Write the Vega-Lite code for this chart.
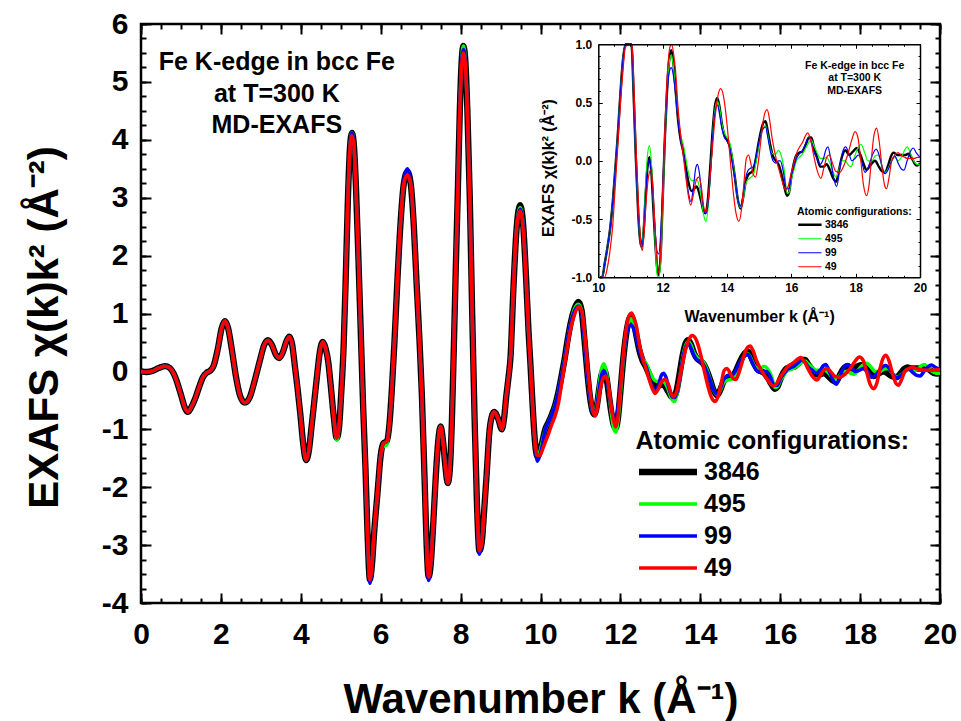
{
  "$schema": "https://vega.github.io/schema/vega-lite/v6.json",
  "width": 799,
  "height": 579,
  "autosize": {"type": "none"},
  "padding": {"left": 141, "top": 24, "right": 21, "bottom": 118},
  "background": "white",
  "config": {
    "font": "Liberation Sans",
    "view": {"stroke": "black", "strokeWidth": 2.5},
    "axis": {"grid": false, "labelFlush": false, "labelOverlap": false, "labelColor": "black", "tickColor": "black", "domainColor": "black", "titleColor": "black", "labelFont": "Liberation Sans", "titleFont": "Liberation Sans", "labelFontWeight": "bold", "titleFontWeight": "bold"},
    "legend": {"labelFont": "Liberation Sans", "titleFont": "Liberation Sans", "labelFontWeight": "bold", "titleFontWeight": "bold", "labelColor": "black", "titleColor": "black", "padding": 0, "titleLimit": 500, "labelLimit": 300}
  },
  "datasets": {
    "exafs": [
      {"k":0,"v":0,"s":["3846","495","99","49"]},
      {"k":0.15,"v":-0.01,"s":["3846","495","99","49"]},
      {"k":0.3,"v":0.01,"s":["3846","495","99","49"]},
      {"k":0.45,"v":0.06,"s":["3846","495","99","49"]},
      {"k":0.6,"v":0.09,"s":["3846","495","99","49"]},
      {"k":0.72,"v":0.06,"s":["3846","495","99","49"]},
      {"k":0.82,"v":-0.04,"s":["3846","495","99","49"]},
      {"k":0.92,"v":-0.22,"s":["3846","495","99","49"]},
      {"k":1.02,"v":-0.45,"s":["3846","495","99","49"]},
      {"k":1.1,"v":-0.63,"s":["3846","495","99","49"]},
      {"k":1.17,"v":-0.7,"s":["3846","495","99","49"]},
      {"k":1.25,"v":-0.63,"s":["3846","495","99","49"]},
      {"k":1.35,"v":-0.48,"s":["3846","495","99","49"]},
      {"k":1.45,"v":-0.28,"s":["3846","495","99","49"]},
      {"k":1.55,"v":-0.1,"s":["3846","495","99","49"]},
      {"k":1.65,"v":-0.02,"s":["3846","495","99","49"]},
      {"k":1.73,"v":0.01,"s":["3846","495","99","49"]},
      {"k":1.82,"v":0.1,"s":["3846","495","99","49"]},
      {"k":1.92,"v":0.38,"s":["3846","495","99","49"]},
      {"k":2.02,"v":0.75,"s":["3846","495","99","49"]},
      {"k":2.1,"v":0.87,"s":["3846","495","99","49"]},
      {"k":2.18,"v":0.75,"s":["3846","495","99","49"]},
      {"k":2.28,"v":0.35,"s":["3846","495","99","49"]},
      {"k":2.38,"v":-0.1,"s":["3846","495","99","49"]},
      {"k":2.48,"v":-0.42,"s":["3846","495","99","49"]},
      {"k":2.6,"v":-0.54,"s":["3846","495","99","49"]},
      {"k":2.72,"v":-0.45,"s":["3846","495","99","49"]},
      {"k":2.85,"v":-0.15,"s":["3846","495","99","49"]},
      {"k":2.98,"v":0.2,"s":["3846","495","99","49"]},
      {"k":3.08,"v":0.45,"s":["3846","495","99","49"]},
      {"k":3.18,"v":0.54,"s":["3846","495","99","49"]},
      {"k":3.28,"v":0.45,"s":["3846","495","99","49"]},
      {"k":3.38,"v":0.28,"s":["3846","495","99","49"]},
      {"k":3.46,"v":0.23,"s":["3846","495","99","49"]},
      {"k":3.55,"v":0.33,"s":["3846","495","99","49"]},
      {"k":3.64,"v":0.52,"s":["3846","495","99","49"]},
      {"k":3.71,"v":0.6,"s":["3846","495","99","49"]},
      {"k":3.78,"v":0.48,"s":["3846","495","99","49"]},
      {"k":3.85,"v":0.1,"s":["3846","495","99","49"]},
      {"k":3.92,"v":-0.3,"s":["3846","495","99","49"]},
      {"k":3.99,"v":-0.75,"s":["3846","495","99","49"]},
      {"k":4.06,"v":-1.25,"s":["3846","495","99","49"]},
      {"k":4.13,"v":-1.53,"s":["3846","495","99","49"]},
      {"k":4.2,"v":-1.38,"s":["3846","495","99","49"]},
      {"k":4.27,"v":-0.95,"s":["3846","495","99","49"]},
      {"k":4.34,"v":-0.5,"s":["3846","495","99","49"]},
      {"k":4.41,"v":-0.05,"s":["3846","495","99","49"]},
      {"k":4.48,"v":0.35,"s":["3846","495","99","49"]},
      {"k":4.55,"v":0.51,"s":["3846","495","99","49"]},
      {"k":4.62,"v":0.4,"s":["3846","495","99","49"]},
      {"k":4.69,"v":0.15,"s":["3846","495","99","49"]},
      {"k":4.75,"v":-0.25,"s":["3846","495","99","49"]},
      {"k":4.82,"v":-0.75,"s":["3846","495","99","49"]},
      {"k":4.9,"v":-1.15,"s":["3846","99","49"]},
      {"k":4.9,"v":-1.19,"s":["495"]},
      {"k":4.96,"v":-0.95,"s":["3846","495","99","49"]},
      {"k":5.01,"v":-0.4,"s":["3846","495","99","49"]},
      {"k":5.07,"v":0.4,"s":["3846","495","99","49"]},
      {"k":5.12,"v":1.5,"s":["3846","495","99","49"]},
      {"k":5.18,"v":3.0,"s":["3846","495","99","49"]},
      {"k":5.23,"v":3.85,"s":["3846","495","99","49"]},
      {"k":5.28,"v":4.12,"s":["3846","495","99"]},
      {"k":5.28,"v":4.07,"s":["49"]},
      {"k":5.33,"v":3.9,"s":["3846","495","99","49"]},
      {"k":5.38,"v":3.2,"s":["3846","495","99","49"]},
      {"k":5.44,"v":2.0,"s":["3846","495","99","49"]},
      {"k":5.5,"v":0.7,"s":["3846","495","99","49"]},
      {"k":5.56,"v":-0.6,"s":["3846","495","99","49"]},
      {"k":5.62,"v":-1.7,"s":["3846","495","99","49"]},
      {"k":5.67,"v":-2.8,"s":["3846","495","99","49"]},
      {"k":5.73,"v":-3.6,"s":["3846","495","49"]},
      {"k":5.73,"v":-3.66,"s":["99"]},
      {"k":5.78,"v":-3.35,"s":["3846","495","99","49"]},
      {"k":5.84,"v":-2.75,"s":["3846","495","99","49"]},
      {"k":5.92,"v":-2.1,"s":["3846","495","99","49"]},
      {"k":6.0,"v":-1.45,"s":["3846","495","99","49"]},
      {"k":6.07,"v":-1.24,"s":["3846","99","49"]},
      {"k":6.07,"v":-1.3,"s":["495"]},
      {"k":6.15,"v":-1.21,"s":["3846","99","49"]},
      {"k":6.15,"v":-1.27,"s":["495"]},
      {"k":6.22,"v":-0.9,"s":["3846","495","99","49"]},
      {"k":6.28,"v":-0.3,"s":["3846","495","99","49"]},
      {"k":6.34,"v":0.45,"s":["3846","495","99","49"]},
      {"k":6.42,"v":1.6,"s":["3846","495","99","49"]},
      {"k":6.5,"v":2.6,"s":["3846","495","99","49"]},
      {"k":6.58,"v":3.25,"s":["3846","495","49"]},
      {"k":6.58,"v":3.3,"s":["99"]},
      {"k":6.67,"v":3.45,"s":["3846","495"]},
      {"k":6.67,"v":3.5,"s":["99"]},
      {"k":6.67,"v":3.39,"s":["49"]},
      {"k":6.75,"v":3.25,"s":["3846","495","99","49"]},
      {"k":6.83,"v":2.5,"s":["3846","495","99","49"]},
      {"k":6.9,"v":1.5,"s":["3846","495","99","49"]},
      {"k":6.97,"v":0.55,"s":["3846","495","99","49"]},
      {"k":7.03,"v":-0.4,"s":["3846","495","99","49"]},
      {"k":7.1,"v":-1.9,"s":["3846","495","99","49"]},
      {"k":7.15,"v":-3.0,"s":["3846","495","99","49"]},
      {"k":7.2,"v":-3.55,"s":["3846","495","49"]},
      {"k":7.2,"v":-3.61,"s":["99"]},
      {"k":7.25,"v":-3.35,"s":["3846","495","99","49"]},
      {"k":7.31,"v":-2.7,"s":["3846","495","99","49"]},
      {"k":7.38,"v":-1.8,"s":["3846","495","99","49"]},
      {"k":7.44,"v":-1.2,"s":["3846","495","99","49"]},
      {"k":7.5,"v":-0.95,"s":["3846","495","99","49"]},
      {"k":7.56,"v":-1.2,"s":["3846","495","99","49"]},
      {"k":7.62,"v":-1.65,"s":["3846","495","99","49"]},
      {"k":7.68,"v":-1.93,"s":["3846","495","99","49"]},
      {"k":7.73,"v":-1.7,"s":["3846","495","99","49"]},
      {"k":7.78,"v":-0.9,"s":["3846","495","99","49"]},
      {"k":7.83,"v":0.4,"s":["3846","495","99","49"]},
      {"k":7.88,"v":1.8,"s":["3846","495","99","49"]},
      {"k":7.93,"v":3.1,"s":["3846","495","99","49"]},
      {"k":7.98,"v":4.5,"s":["3846","495","99","49"]},
      {"k":8.03,"v":5.4,"s":["3846","495","99"]},
      {"k":8.03,"v":5.3,"s":["49"]},
      {"k":8.07,"v":5.62,"s":["3846","495"]},
      {"k":8.07,"v":5.56,"s":["99"]},
      {"k":8.07,"v":5.5,"s":["49"]},
      {"k":8.12,"v":5.35,"s":["3846","495","99"]},
      {"k":8.12,"v":5.28,"s":["49"]},
      {"k":8.17,"v":4.5,"s":["3846","495","99","49"]},
      {"k":8.23,"v":3.0,"s":["3846","495","99","49"]},
      {"k":8.29,"v":1.0,"s":["3846","495","99","49"]},
      {"k":8.35,"v":-0.8,"s":["3846","495","99","49"]},
      {"k":8.41,"v":-2.3,"s":["3846","495","99","49"]},
      {"k":8.47,"v":-3.1,"s":["3846","495","49"]},
      {"k":8.47,"v":-3.16,"s":["99"]},
      {"k":8.53,"v":-2.95,"s":["3846","495","99","49"]},
      {"k":8.59,"v":-2.4,"s":["3846","495","99","49"]},
      {"k":8.65,"v":-1.8,"s":["3846","495","99","49"]},
      {"k":8.72,"v":-1.05,"s":["3846","495","99","49"]},
      {"k":8.78,"v":-0.78,"s":["3846","495","99","49"]},
      {"k":8.84,"v":-0.7,"s":["3846","495","99","49"]},
      {"k":8.9,"v":-0.75,"s":["3846","495","99","49"]},
      {"k":8.96,"v":-0.86,"s":["3846","495","99","49"]},
      {"k":9.03,"v":-1.0,"s":["3846","495","99","49"]},
      {"k":9.09,"v":-0.8,"s":["3846","495","99","49"]},
      {"k":9.14,"v":-0.45,"s":["3846","495","99","49"]},
      {"k":9.2,"v":-0.1,"s":["3846","495","99","49"]},
      {"k":9.25,"v":0.25,"s":["3846","495","99","49"]},
      {"k":9.32,"v":1.4,"s":["3846","495","99","49"]},
      {"k":9.4,"v":2.45,"s":["3846","495","99","49"]},
      {"k":9.49,"v":2.87,"s":["3846"]},
      {"k":9.49,"v":2.83,"s":["495"]},
      {"k":9.49,"v":2.8,"s":["99"]},
      {"k":9.49,"v":2.77,"s":["49"]},
      {"k":9.57,"v":2.5,"s":["3846","495","99"]},
      {"k":9.57,"v":2.42,"s":["49"]},
      {"k":9.64,"v":1.6,"s":["3846","495","99","49"]},
      {"k":9.7,"v":0.7,"s":["3846","495","99","49"]},
      {"k":9.75,"v":0.1,"s":["3846","495","99","49"]},
      {"k":9.8,"v":-0.55,"s":["3846","495","99","49"]},
      {"k":9.86,"v":-1.2,"s":["3846","495","99","49"]},
      {"k":9.92,"v":-1.47,"s":["3846"]},
      {"k":9.92,"v":-1.51,"s":["495"]},
      {"k":9.92,"v":-1.55,"s":["99"]},
      {"k":9.92,"v":-1.45,"s":["49"]},
      {"k":9.98,"v":-1.4,"s":["3846","495"]},
      {"k":9.98,"v":-1.46,"s":["99"]},
      {"k":9.98,"v":-1.45,"s":["49"]},
      {"k":10.05,"v":-1.2,"s":["3846","495"]},
      {"k":10.05,"v":-1.25,"s":["99"]},
      {"k":10.05,"v":-1.35,"s":["49"]},
      {"k":10.12,"v":-1.0,"s":["3846","495","99"]},
      {"k":10.12,"v":-1.22,"s":["49"]},
      {"k":10.2,"v":-0.88,"s":["3846","495","99"]},
      {"k":10.28,"v":-0.75,"s":["3846","495","99"]},
      {"k":10.36,"v":-0.6,"s":["3846","495","99"]},
      {"k":10.45,"v":-0.35,"s":["3846","495","99"]},
      {"k":10.52,"v":-0.1,"s":["3846","495","99"]},
      {"k":10.6,"v":0.2,"s":["3846","495","99"]},
      {"k":10.68,"v":0.55,"s":["3846","495","99"]},
      {"k":10.76,"v":0.85,"s":["3846","495","99"]},
      {"k":10.85,"v":1.08,"s":["3846","495"]},
      {"k":10.85,"v":1.04,"s":["99"]},
      {"k":10.95,"v":1.2,"s":["3846"]},
      {"k":10.95,"v":1.16,"s":["495"]},
      {"k":10.95,"v":1.13,"s":["99"]},
      {"k":11.03,"v":1.05,"s":["3846","495"]},
      {"k":11.03,"v":1.0,"s":["99"]},
      {"k":11.1,"v":0.55,"s":["3846","495","99"]},
      {"k":11.17,"v":0.0,"s":["3846","495","99"]},
      {"k":11.24,"v":-0.45,"s":["3846","495","99"]},
      {"k":11.3,"v":-0.68,"s":["3846","495","99"]},
      {"k":11.35,"v":-0.74,"s":["3846","495","99"]},
      {"k":10.2,"v":-1.08,"s":["49"]},
      {"k":10.28,"v":-0.92,"s":["49"]},
      {"k":10.36,"v":-0.78,"s":["49"]},
      {"k":10.45,"v":-0.55,"s":["49"]},
      {"k":10.52,"v":-0.25,"s":["49"]},
      {"k":10.6,"v":0.1,"s":["49"]},
      {"k":10.68,"v":0.45,"s":["49"]},
      {"k":10.76,"v":0.75,"s":["49"]},
      {"k":10.85,"v":0.98,"s":["49"]},
      {"k":10.97,"v":1.12,"s":["49"]},
      {"k":11.05,"v":0.98,"s":["49"]},
      {"k":11.12,"v":0.55,"s":["49"]},
      {"k":11.19,"v":0.0,"s":["49"]},
      {"k":11.26,"v":-0.45,"s":["49"]},
      {"k":11.32,"v":-0.7,"s":["49"]},
      {"k":11.37,"v":-0.77,"s":["49"]},
      {"k":11.41,"v":-0.6,"s":["3846"]},
      {"k":11.47,"v":-0.3,"s":["3846"]},
      {"k":11.53,"v":-0.05,"s":["3846"]},
      {"k":11.59,"v":0.03,"s":["3846"]},
      {"k":11.65,"v":-0.1,"s":["3846"]},
      {"k":11.71,"v":-0.4,"s":["3846"]},
      {"k":11.77,"v":-0.7,"s":["3846"]},
      {"k":11.83,"v":-0.92,"s":["3846"]},
      {"k":11.88,"v":-0.98,"s":["3846"]},
      {"k":11.94,"v":-0.8,"s":["3846"]},
      {"k":12.0,"v":-0.35,"s":["3846"]},
      {"k":12.07,"v":0.2,"s":["3846"]},
      {"k":12.14,"v":0.62,"s":["3846"]},
      {"k":12.21,"v":0.88,"s":["3846"]},
      {"k":12.27,"v":0.95,"s":["3846"]},
      {"k":12.33,"v":0.85,"s":["3846"]},
      {"k":12.4,"v":0.62,"s":["3846"]},
      {"k":12.48,"v":0.35,"s":["3846"]},
      {"k":12.56,"v":0.18,"s":["3846"]},
      {"k":12.64,"v":0.08,"s":["3846"]},
      {"k":12.72,"v":-0.05,"s":["3846"]},
      {"k":12.8,"v":-0.18,"s":["3846"]},
      {"k":12.9,"v":-0.26,"s":["3846"]},
      {"k":12.98,"v":-0.24,"s":["3846"]},
      {"k":13.05,"v":-0.22,"s":["3846"]},
      {"k":13.12,"v":-0.26,"s":["3846"]},
      {"k":13.2,"v":-0.35,"s":["3846"]},
      {"k":13.28,"v":-0.44,"s":["3846"]},
      {"k":13.33,"v":-0.45,"s":["3846"]},
      {"k":13.4,"v":-0.35,"s":["3846"]},
      {"k":13.48,"v":-0.05,"s":["3846"]},
      {"k":13.56,"v":0.28,"s":["3846"]},
      {"k":13.63,"v":0.48,"s":["3846"]},
      {"k":13.7,"v":0.54,"s":["3846"]},
      {"k":13.77,"v":0.46,"s":["3846"]},
      {"k":13.84,"v":0.32,"s":["3846"]},
      {"k":13.92,"v":0.22,"s":["3846"]},
      {"k":14.0,"v":0.18,"s":["3846"]},
      {"k":14.08,"v":0.13,"s":["3846"]},
      {"k":14.16,"v":0.02,"s":["3846"]},
      {"k":14.25,"v":-0.15,"s":["3846"]},
      {"k":14.33,"v":-0.32,"s":["3846"]},
      {"k":14.42,"v":-0.41,"s":["3846"]},
      {"k":14.5,"v":-0.32,"s":["3846"]},
      {"k":14.58,"v":-0.18,"s":["3846"]},
      {"k":14.66,"v":-0.12,"s":["3846"]},
      {"k":14.75,"v":-0.1,"s":["3846"]},
      {"k":14.82,"v":-0.08,"s":["3846"]},
      {"k":14.9,"v":0.02,"s":["3846"]},
      {"k":14.98,"v":0.15,"s":["3846"]},
      {"k":15.06,"v":0.26,"s":["3846"]},
      {"k":15.14,"v":0.33,"s":["3846"]},
      {"k":15.2,"v":0.34,"s":["3846"]},
      {"k":15.27,"v":0.25,"s":["3846"]},
      {"k":15.35,"v":0.13,"s":["3846"]},
      {"k":15.43,"v":0.04,"s":["3846"]},
      {"k":15.52,"v":0.0,"s":["3846"]},
      {"k":15.6,"v":-0.03,"s":["3846"]},
      {"k":15.7,"v":-0.12,"s":["3846"]},
      {"k":15.78,"v":-0.22,"s":["3846"]},
      {"k":15.87,"v":-0.3,"s":["3846"]},
      {"k":15.93,"v":-0.27,"s":["3846"]},
      {"k":16.0,"v":-0.14,"s":["3846"]},
      {"k":16.08,"v":-0.02,"s":["3846"]},
      {"k":16.16,"v":0.05,"s":["3846"]},
      {"k":16.25,"v":0.07,"s":["3846"]},
      {"k":16.35,"v":0.08,"s":["3846"]},
      {"k":16.45,"v":0.14,"s":["3846"]},
      {"k":16.55,"v":0.2,"s":["3846"]},
      {"k":16.62,"v":0.2,"s":["3846"]},
      {"k":16.7,"v":0.12,"s":["3846"]},
      {"k":16.8,"v":0.03,"s":["3846"]},
      {"k":16.9,"v":-0.05,"s":["3846"]},
      {"k":17.0,"v":-0.05,"s":["3846"]},
      {"k":17.1,"v":-0.03,"s":["3846"]},
      {"k":17.2,"v":-0.08,"s":["3846"]},
      {"k":17.3,"v":-0.15,"s":["3846"]},
      {"k":17.39,"v":-0.18,"s":["3846"]},
      {"k":17.48,"v":-0.08,"s":["3846"]},
      {"k":17.58,"v":0.04,"s":["3846"]},
      {"k":17.68,"v":0.09,"s":["3846"]},
      {"k":17.8,"v":0.05,"s":["3846"]},
      {"k":17.92,"v":0.08,"s":["3846"]},
      {"k":18.03,"v":0.11,"s":["3846"]},
      {"k":18.15,"v":0.05,"s":["3846"]},
      {"k":18.25,"v":-0.03,"s":["3846"]},
      {"k":18.34,"v":-0.08,"s":["3846"]},
      {"k":18.45,"v":-0.04,"s":["3846"]},
      {"k":18.6,"v":0.0,"s":["3846"]},
      {"k":18.72,"v":-0.05,"s":["3846"]},
      {"k":18.82,"v":-0.09,"s":["3846"]},
      {"k":18.91,"v":-0.1,"s":["3846"]},
      {"k":19.02,"v":-0.03,"s":["3846"]},
      {"k":19.1,"v":0.04,"s":["3846"]},
      {"k":19.18,"v":0.07,"s":["3846"]},
      {"k":19.3,"v":0.05,"s":["3846"]},
      {"k":19.43,"v":0.05,"s":["3846"]},
      {"k":19.55,"v":0.05,"s":["3846"]},
      {"k":19.64,"v":0.06,"s":["3846"]},
      {"k":19.75,"v":0.02,"s":["3846"]},
      {"k":19.85,"v":-0.03,"s":["3846"]},
      {"k":19.92,"v":-0.04,"s":["3846"]},
      {"k":20.0,"v":-0.02,"s":["3846"]},
      {"k":11.41,"v":-0.55,"s":["495"]},
      {"k":11.47,"v":-0.22,"s":["495"]},
      {"k":11.53,"v":0.05,"s":["495"]},
      {"k":11.59,"v":0.13,"s":["495"]},
      {"k":11.65,"v":-0.02,"s":["495"]},
      {"k":11.71,"v":-0.35,"s":["495"]},
      {"k":11.77,"v":-0.7,"s":["495"]},
      {"k":11.83,"v":-0.98,"s":["495"]},
      {"k":11.88,"v":-1.05,"s":["495"]},
      {"k":11.94,"v":-0.85,"s":["495"]},
      {"k":12.0,"v":-0.38,"s":["495"]},
      {"k":12.07,"v":0.18,"s":["495"]},
      {"k":12.14,"v":0.6,"s":["495"]},
      {"k":12.21,"v":0.85,"s":["495"]},
      {"k":12.27,"v":0.91,"s":["495"]},
      {"k":12.33,"v":0.82,"s":["495"]},
      {"k":12.4,"v":0.6,"s":["495"]},
      {"k":12.48,"v":0.38,"s":["495"]},
      {"k":12.56,"v":0.22,"s":["495"]},
      {"k":12.64,"v":0.14,"s":["495"]},
      {"k":12.72,"v":0.02,"s":["495"]},
      {"k":12.8,"v":-0.1,"s":["495"]},
      {"k":12.9,"v":-0.17,"s":["495"]},
      {"k":12.98,"v":-0.17,"s":["495"]},
      {"k":13.05,"v":-0.16,"s":["495"]},
      {"k":13.12,"v":-0.2,"s":["495"]},
      {"k":13.2,"v":-0.32,"s":["495"]},
      {"k":13.28,"v":-0.47,"s":["495"]},
      {"k":13.35,"v":-0.52,"s":["495"]},
      {"k":13.42,"v":-0.38,"s":["495"]},
      {"k":13.5,"v":-0.05,"s":["495"]},
      {"k":13.57,"v":0.28,"s":["495"]},
      {"k":13.64,"v":0.46,"s":["495"]},
      {"k":13.7,"v":0.51,"s":["495"]},
      {"k":13.77,"v":0.45,"s":["495"]},
      {"k":13.84,"v":0.32,"s":["495"]},
      {"k":13.92,"v":0.24,"s":["495"]},
      {"k":14.0,"v":0.2,"s":["495"]},
      {"k":14.08,"v":0.16,"s":["495"]},
      {"k":14.16,"v":0.04,"s":["495"]},
      {"k":14.25,"v":-0.15,"s":["495"]},
      {"k":14.33,"v":-0.32,"s":["495"]},
      {"k":14.42,"v":-0.4,"s":["495"]},
      {"k":14.5,"v":-0.33,"s":["495"]},
      {"k":14.58,"v":-0.2,"s":["495"]},
      {"k":14.66,"v":-0.16,"s":["495"]},
      {"k":14.75,"v":-0.14,"s":["495"]},
      {"k":14.82,"v":-0.12,"s":["495"]},
      {"k":14.9,"v":-0.02,"s":["495"]},
      {"k":14.98,"v":0.12,"s":["495"]},
      {"k":15.06,"v":0.23,"s":["495"]},
      {"k":15.14,"v":0.29,"s":["495"]},
      {"k":15.2,"v":0.3,"s":["495"]},
      {"k":15.27,"v":0.22,"s":["495"]},
      {"k":15.35,"v":0.1,"s":["495"]},
      {"k":15.43,"v":0.06,"s":["495"]},
      {"k":15.52,"v":0.06,"s":["495"]},
      {"k":15.6,"v":0.09,"s":["495"]},
      {"k":15.68,"v":0.05,"s":["495"]},
      {"k":15.78,"v":-0.08,"s":["495"]},
      {"k":15.87,"v":-0.28,"s":["495"]},
      {"k":15.93,"v":-0.27,"s":["495"]},
      {"k":16.0,"v":-0.16,"s":["495"]},
      {"k":16.08,"v":-0.08,"s":["495"]},
      {"k":16.16,"v":0.0,"s":["495"]},
      {"k":16.25,"v":0.03,"s":["495"]},
      {"k":16.35,"v":0.06,"s":["495"]},
      {"k":16.45,"v":0.11,"s":["495"]},
      {"k":16.55,"v":0.16,"s":["495"]},
      {"k":16.62,"v":0.18,"s":["495"]},
      {"k":16.7,"v":0.13,"s":["495"]},
      {"k":16.8,"v":0.07,"s":["495"]},
      {"k":16.9,"v":0.02,"s":["495"]},
      {"k":17.0,"v":0.02,"s":["495"]},
      {"k":17.1,"v":0.03,"s":["495"]},
      {"k":17.2,"v":-0.02,"s":["495"]},
      {"k":17.3,"v":-0.1,"s":["495"]},
      {"k":17.39,"v":-0.14,"s":["495"]},
      {"k":17.48,"v":-0.08,"s":["495"]},
      {"k":17.58,"v":0.0,"s":["495"]},
      {"k":17.68,"v":0.0,"s":["495"]},
      {"k":17.78,"v":-0.04,"s":["495"]},
      {"k":17.86,"v":-0.05,"s":["495"]},
      {"k":17.95,"v":0.02,"s":["495"]},
      {"k":18.05,"v":0.1,"s":["495"]},
      {"k":18.17,"v":0.14,"s":["495"]},
      {"k":18.28,"v":0.07,"s":["495"]},
      {"k":18.38,"v":0.0,"s":["495"]},
      {"k":18.5,"v":0.0,"s":["495"]},
      {"k":18.6,"v":0.04,"s":["495"]},
      {"k":18.7,"v":0.05,"s":["495"]},
      {"k":18.8,"v":-0.03,"s":["495"]},
      {"k":18.92,"v":-0.1,"s":["495"]},
      {"k":19.02,"v":-0.06,"s":["495"]},
      {"k":19.12,"v":0.0,"s":["495"]},
      {"k":19.22,"v":0.03,"s":["495"]},
      {"k":19.32,"v":0.0,"s":["495"]},
      {"k":19.42,"v":0.03,"s":["495"]},
      {"k":19.52,"v":0.09,"s":["495"]},
      {"k":19.6,"v":0.12,"s":["495"]},
      {"k":19.7,"v":0.07,"s":["495"]},
      {"k":19.8,"v":0.0,"s":["495"]},
      {"k":19.9,"v":-0.03,"s":["495"]},
      {"k":20.0,"v":-0.03,"s":["495"]},
      {"k":11.41,"v":-0.6,"s":["99"]},
      {"k":11.47,"v":-0.3,"s":["99"]},
      {"k":11.53,"v":-0.06,"s":["99"]},
      {"k":11.59,"v":0.01,"s":["99"]},
      {"k":11.65,"v":-0.1,"s":["99"]},
      {"k":11.71,"v":-0.35,"s":["99"]},
      {"k":11.77,"v":-0.62,"s":["99"]},
      {"k":11.83,"v":-0.78,"s":["99"]},
      {"k":11.88,"v":-0.8,"s":["99"]},
      {"k":11.94,"v":-0.62,"s":["99"]},
      {"k":12.0,"v":-0.25,"s":["99"]},
      {"k":12.07,"v":0.22,"s":["99"]},
      {"k":12.14,"v":0.58,"s":["99"]},
      {"k":12.21,"v":0.77,"s":["99"]},
      {"k":12.27,"v":0.8,"s":["99"]},
      {"k":12.33,"v":0.74,"s":["99"]},
      {"k":12.4,"v":0.58,"s":["99"]},
      {"k":12.48,"v":0.35,"s":["99"]},
      {"k":12.56,"v":0.18,"s":["99"]},
      {"k":12.64,"v":0.09,"s":["99"]},
      {"k":12.72,"v":-0.1,"s":["99"]},
      {"k":12.8,"v":-0.27,"s":["99"]},
      {"k":12.88,"v":-0.35,"s":["99"]},
      {"k":12.96,"v":-0.22,"s":["99"]},
      {"k":13.03,"v":-0.06,"s":["99"]},
      {"k":13.08,"v":-0.03,"s":["99"]},
      {"k":13.14,"v":-0.1,"s":["99"]},
      {"k":13.22,"v":-0.3,"s":["99"]},
      {"k":13.3,"v":-0.44,"s":["99"]},
      {"k":13.35,"v":-0.45,"s":["99"]},
      {"k":13.42,"v":-0.35,"s":["99"]},
      {"k":13.5,"v":-0.05,"s":["99"]},
      {"k":13.57,"v":0.26,"s":["99"]},
      {"k":13.64,"v":0.43,"s":["99"]},
      {"k":13.7,"v":0.48,"s":["99"]},
      {"k":13.77,"v":0.4,"s":["99"]},
      {"k":13.84,"v":0.28,"s":["99"]},
      {"k":13.92,"v":0.2,"s":["99"]},
      {"k":14.0,"v":0.17,"s":["99"]},
      {"k":14.08,"v":0.12,"s":["99"]},
      {"k":14.16,"v":0.0,"s":["99"]},
      {"k":14.25,"v":-0.16,"s":["99"]},
      {"k":14.33,"v":-0.32,"s":["99"]},
      {"k":14.42,"v":-0.39,"s":["99"]},
      {"k":14.5,"v":-0.3,"s":["99"]},
      {"k":14.58,"v":-0.15,"s":["99"]},
      {"k":14.66,"v":-0.08,"s":["99"]},
      {"k":14.75,"v":-0.06,"s":["99"]},
      {"k":14.82,"v":-0.05,"s":["99"]},
      {"k":14.9,"v":0.03,"s":["99"]},
      {"k":14.98,"v":0.14,"s":["99"]},
      {"k":15.06,"v":0.23,"s":["99"]},
      {"k":15.14,"v":0.28,"s":["99"]},
      {"k":15.2,"v":0.29,"s":["99"]},
      {"k":15.27,"v":0.2,"s":["99"]},
      {"k":15.35,"v":0.08,"s":["99"]},
      {"k":15.43,"v":0.0,"s":["99"]},
      {"k":15.52,"v":-0.02,"s":["99"]},
      {"k":15.6,"v":0.0,"s":["99"]},
      {"k":15.66,"v":0.0,"s":["99"]},
      {"k":15.75,"v":-0.09,"s":["99"]},
      {"k":15.85,"v":-0.24,"s":["99"]},
      {"k":15.93,"v":-0.24,"s":["99"]},
      {"k":16.0,"v":-0.13,"s":["99"]},
      {"k":16.08,"v":-0.05,"s":["99"]},
      {"k":16.16,"v":0.02,"s":["99"]},
      {"k":16.25,"v":0.06,"s":["99"]},
      {"k":16.35,"v":0.09,"s":["99"]},
      {"k":16.45,"v":0.15,"s":["99"]},
      {"k":16.53,"v":0.2,"s":["99"]},
      {"k":16.62,"v":0.16,"s":["99"]},
      {"k":16.7,"v":0.08,"s":["99"]},
      {"k":16.8,"v":0.02,"s":["99"]},
      {"k":16.9,"v":-0.03,"s":["99"]},
      {"k":17.0,"v":0.02,"s":["99"]},
      {"k":17.08,"v":0.1,"s":["99"]},
      {"k":17.14,"v":0.12,"s":["99"]},
      {"k":17.22,"v":0.02,"s":["99"]},
      {"k":17.32,"v":-0.15,"s":["99"]},
      {"k":17.41,"v":-0.22,"s":["99"]},
      {"k":17.5,"v":-0.08,"s":["99"]},
      {"k":17.6,"v":0.08,"s":["99"]},
      {"k":17.69,"v":0.12,"s":["99"]},
      {"k":17.78,"v":0.07,"s":["99"]},
      {"k":17.88,"v":0.0,"s":["99"]},
      {"k":17.98,"v":0.02,"s":["99"]},
      {"k":18.08,"v":0.05,"s":["99"]},
      {"k":18.18,"v":0.0,"s":["99"]},
      {"k":18.29,"v":-0.1,"s":["99"]},
      {"k":18.4,"v":-0.05,"s":["99"]},
      {"k":18.52,"v":0.05,"s":["99"]},
      {"k":18.64,"v":0.1,"s":["99"]},
      {"k":18.75,"v":0.03,"s":["99"]},
      {"k":18.85,"v":-0.08,"s":["99"]},
      {"k":18.92,"v":-0.11,"s":["99"]},
      {"k":19.02,"v":-0.07,"s":["99"]},
      {"k":19.12,"v":0.0,"s":["99"]},
      {"k":19.22,"v":0.04,"s":["99"]},
      {"k":19.32,"v":-0.02,"s":["99"]},
      {"k":19.42,"v":-0.07,"s":["99"]},
      {"k":19.5,"v":-0.08,"s":["99"]},
      {"k":19.6,"v":0.0,"s":["99"]},
      {"k":19.7,"v":0.08,"s":["99"]},
      {"k":19.79,"v":0.11,"s":["99"]},
      {"k":19.88,"v":0.07,"s":["99"]},
      {"k":20.0,"v":0.03,"s":["99"]},
      {"k":11.43,"v":-0.6,"s":["49"]},
      {"k":11.5,"v":-0.3,"s":["49"]},
      {"k":11.57,"v":-0.12,"s":["49"]},
      {"k":11.63,"v":-0.08,"s":["49"]},
      {"k":11.69,"v":-0.2,"s":["49"]},
      {"k":11.75,"v":-0.5,"s":["49"]},
      {"k":11.82,"v":-0.82,"s":["49"]},
      {"k":11.88,"v":-0.96,"s":["49"]},
      {"k":11.94,"v":-0.78,"s":["49"]},
      {"k":12.0,"v":-0.3,"s":["49"]},
      {"k":12.08,"v":0.35,"s":["49"]},
      {"k":12.16,"v":0.8,"s":["49"]},
      {"k":12.23,"v":0.98,"s":["49"]},
      {"k":12.28,"v":1.01,"s":["49"]},
      {"k":12.34,"v":0.92,"s":["49"]},
      {"k":12.4,"v":0.78,"s":["49"]},
      {"k":12.48,"v":0.45,"s":["49"]},
      {"k":12.56,"v":0.22,"s":["49"]},
      {"k":12.64,"v":0.05,"s":["49"]},
      {"k":12.72,"v":-0.14,"s":["49"]},
      {"k":12.8,"v":-0.3,"s":["49"]},
      {"k":12.87,"v":-0.38,"s":["49"]},
      {"k":12.95,"v":-0.3,"s":["49"]},
      {"k":13.04,"v":-0.17,"s":["49"]},
      {"k":13.12,"v":-0.14,"s":["49"]},
      {"k":13.2,"v":-0.22,"s":["49"]},
      {"k":13.28,"v":-0.4,"s":["49"]},
      {"k":13.33,"v":-0.44,"s":["49"]},
      {"k":13.4,"v":-0.36,"s":["49"]},
      {"k":13.48,"v":-0.12,"s":["49"]},
      {"k":13.56,"v":0.15,"s":["49"]},
      {"k":13.64,"v":0.4,"s":["49"]},
      {"k":13.72,"v":0.56,"s":["49"]},
      {"k":13.8,"v":0.62,"s":["49"]},
      {"k":13.88,"v":0.57,"s":["49"]},
      {"k":13.96,"v":0.42,"s":["49"]},
      {"k":14.04,"v":0.2,"s":["49"]},
      {"k":14.12,"v":-0.05,"s":["49"]},
      {"k":14.2,"v":-0.28,"s":["49"]},
      {"k":14.28,"v":-0.45,"s":["49"]},
      {"k":14.37,"v":-0.52,"s":["49"]},
      {"k":14.45,"v":-0.42,"s":["49"]},
      {"k":14.53,"v":-0.18,"s":["49"]},
      {"k":14.6,"v":0.02,"s":["49"]},
      {"k":14.67,"v":0.05,"s":["49"]},
      {"k":14.74,"v":-0.02,"s":["49"]},
      {"k":14.82,"v":-0.12,"s":["49"]},
      {"k":14.89,"v":-0.14,"s":["49"]},
      {"k":14.96,"v":-0.04,"s":["49"]},
      {"k":15.04,"v":0.14,"s":["49"]},
      {"k":15.12,"v":0.33,"s":["49"]},
      {"k":15.19,"v":0.42,"s":["49"]},
      {"k":15.25,"v":0.44,"s":["49"]},
      {"k":15.32,"v":0.36,"s":["49"]},
      {"k":15.4,"v":0.2,"s":["49"]},
      {"k":15.48,"v":0.08,"s":["49"]},
      {"k":15.56,"v":-0.02,"s":["49"]},
      {"k":15.64,"v":-0.1,"s":["49"]},
      {"k":15.72,"v":-0.18,"s":["49"]},
      {"k":15.82,"v":-0.25,"s":["49"]},
      {"k":15.9,"v":-0.22,"s":["49"]},
      {"k":16.0,"v":-0.1,"s":["49"]},
      {"k":16.08,"v":-0.02,"s":["49"]},
      {"k":16.17,"v":0.07,"s":["49"]},
      {"k":16.26,"v":0.12,"s":["49"]},
      {"k":16.35,"v":0.16,"s":["49"]},
      {"k":16.43,"v":0.21,"s":["49"]},
      {"k":16.51,"v":0.24,"s":["49"]},
      {"k":16.6,"v":0.18,"s":["49"]},
      {"k":16.7,"v":0.04,"s":["49"]},
      {"k":16.8,"v":-0.08,"s":["49"]},
      {"k":16.92,"v":-0.15,"s":["49"]},
      {"k":17.02,"v":-0.05,"s":["49"]},
      {"k":17.12,"v":0.04,"s":["49"]},
      {"k":17.18,"v":0.05,"s":["49"]},
      {"k":17.28,"v":-0.02,"s":["49"]},
      {"k":17.38,"v":-0.09,"s":["49"]},
      {"k":17.5,"v":-0.1,"s":["49"]},
      {"k":17.62,"v":-0.05,"s":["49"]},
      {"k":17.75,"v":0.05,"s":["49"]},
      {"k":17.88,"v":0.18,"s":["49"]},
      {"k":17.98,"v":0.25,"s":["49"]},
      {"k":18.07,"v":0.2,"s":["49"]},
      {"k":18.16,"v":0.0,"s":["49"]},
      {"k":18.25,"v":-0.22,"s":["49"]},
      {"k":18.34,"v":-0.3,"s":["49"]},
      {"k":18.42,"v":-0.2,"s":["49"]},
      {"k":18.5,"v":0.05,"s":["49"]},
      {"k":18.57,"v":0.22,"s":["49"]},
      {"k":18.65,"v":0.28,"s":["49"]},
      {"k":18.73,"v":0.17,"s":["49"]},
      {"k":18.82,"v":-0.06,"s":["49"]},
      {"k":18.9,"v":-0.21,"s":["49"]},
      {"k":18.96,"v":-0.24,"s":["49"]},
      {"k":19.04,"v":-0.14,"s":["49"]},
      {"k":19.12,"v":0.0,"s":["49"]},
      {"k":19.22,"v":0.05,"s":["49"]},
      {"k":19.32,"v":0.07,"s":["49"]},
      {"k":19.4,"v":0.05,"s":["49"]},
      {"k":19.52,"v":0.03,"s":["49"]},
      {"k":19.62,"v":0.02,"s":["49"]},
      {"k":19.72,"v":0.02,"s":["49"]},
      {"k":19.82,"v":0.02,"s":["49"]},
      {"k":19.92,"v":0.03,"s":["49"]},
      {"k":20.0,"v":0.03,"s":["49"]}
    ]
  },
  "layer": [
    {
      "layer": [
        {
          "data": {"name": "exafs"},
          "transform": [{"flatten": ["s"]}, {"filter": "datum.s == '3846'"}],
          "mark": {"type": "line", "interpolate": "monotone", "strokeJoin": "round"},
          "encoding": {
            "x": {"field": "k", "type": "quantitative", "scale": {"domain": [0, 20], "nice": false, "zero": false},
              "axis": {"orient": "bottom", "values": [0,2,4,6,8,10,12,14,16,18,20], "format": "d", "labelFontSize": 30, "tickSize": -10, "tickWidth": 2, "labelPadding": 26, "domain": false, "title": "Wavenumber k (Å⁻¹)", "titleFontSize": 42, "titleY": 109, "titleBaseline": "alphabetic"}},
            "y": {"field": "v", "type": "quantitative", "scale": {"domain": [-4, 6], "nice": false, "zero": false},
              "axis": {"orient": "left", "values": [-4,-3,-2,-1,0,1,2,3,4,5,6], "format": "d", "labelExpr": "replace(datum.label, '−', '-')", "labelFontSize": 30, "tickSize": -10, "tickWidth": 2, "labelPadding": 23, "domain": false, "title": "EXAFS χ(k)k² (Å⁻²)", "titleFontSize": 42, "titleX": -84, "titleY": 303, "titleAngle": -90, "titleBaseline": "alphabetic", "titleAlign": "center"}},
            "color": {"field": "s", "type": "nominal", "scale": {"domain": ["3846","495","99","49"], "range": ["#000000","#00ff00","#0000ff","#ff0000"]},
              "legend": {"orient": "none", "legendX": 494.5, "legendY": 405, "direction": "vertical", "title": "Atomic configurations:", "titleFontSize": 25, "labelFontSize": 25, "symbolType": "stroke", "symbolSize": 3364, "clipHeight": 32, "rowPadding": 0, "labelOffset": 3.5, "titlePadding": 2, "titleAnchor": "start"}},
            "strokeWidth": {"field": "s", "type": "nominal", "scale": {"type": "ordinal", "domain": ["3846","495","99","49"], "range": [6.3, 3.5, 3.5, 3.5]},
              "legend": {"orient": "none", "legendX": 494.5, "legendY": 405, "direction": "vertical", "title": "Atomic configurations:", "titleFontSize": 25, "labelFontSize": 25, "symbolType": "stroke", "symbolSize": 3364, "clipHeight": 32, "rowPadding": 0, "labelOffset": 3.5, "titlePadding": 2, "titleAnchor": "start"}}
          }
        },
        {
          "data": {"name": "exafs"},
          "transform": [{"flatten": ["s"]}, {"filter": "datum.s == '495'"}],
          "mark": {"type": "line", "interpolate": "monotone", "strokeJoin": "round"},
          "encoding": {
            "x": {"field": "k", "type": "quantitative", "scale": {"domain": [0, 20], "nice": false, "zero": false}, "axis": null},
            "y": {"field": "v", "type": "quantitative", "scale": {"domain": [-4, 6], "nice": false, "zero": false}, "axis": null},
            "color": {"field": "s", "type": "nominal", "scale": {"domain": ["3846","495","99","49"], "range": ["#000000","#00ff00","#0000ff","#ff0000"]},
              "legend": {"orient": "none", "legendX": 494.5, "legendY": 405, "direction": "vertical", "title": "Atomic configurations:", "titleFontSize": 25, "labelFontSize": 25, "symbolType": "stroke", "symbolSize": 3364, "clipHeight": 32, "rowPadding": 0, "labelOffset": 3.5, "titlePadding": 2, "titleAnchor": "start"}},
            "strokeWidth": {"field": "s", "type": "nominal", "scale": {"type": "ordinal", "domain": ["3846","495","99","49"], "range": [6.3, 3.5, 3.5, 3.5]},
              "legend": {"orient": "none", "legendX": 494.5, "legendY": 405, "direction": "vertical", "title": "Atomic configurations:", "titleFontSize": 25, "labelFontSize": 25, "symbolType": "stroke", "symbolSize": 3364, "clipHeight": 32, "rowPadding": 0, "labelOffset": 3.5, "titlePadding": 2, "titleAnchor": "start"}}
          }
        },
        {
          "data": {"name": "exafs"},
          "transform": [{"flatten": ["s"]}, {"filter": "datum.s == '99'"}],
          "mark": {"type": "line", "interpolate": "monotone", "strokeJoin": "round"},
          "encoding": {
            "x": {"field": "k", "type": "quantitative", "scale": {"domain": [0, 20], "nice": false, "zero": false}, "axis": null},
            "y": {"field": "v", "type": "quantitative", "scale": {"domain": [-4, 6], "nice": false, "zero": false}, "axis": null},
            "color": {"field": "s", "type": "nominal", "scale": {"domain": ["3846","495","99","49"], "range": ["#000000","#00ff00","#0000ff","#ff0000"]},
              "legend": {"orient": "none", "legendX": 494.5, "legendY": 405, "direction": "vertical", "title": "Atomic configurations:", "titleFontSize": 25, "labelFontSize": 25, "symbolType": "stroke", "symbolSize": 3364, "clipHeight": 32, "rowPadding": 0, "labelOffset": 3.5, "titlePadding": 2, "titleAnchor": "start"}},
            "strokeWidth": {"field": "s", "type": "nominal", "scale": {"type": "ordinal", "domain": ["3846","495","99","49"], "range": [6.3, 3.5, 3.5, 3.5]},
              "legend": {"orient": "none", "legendX": 494.5, "legendY": 405, "direction": "vertical", "title": "Atomic configurations:", "titleFontSize": 25, "labelFontSize": 25, "symbolType": "stroke", "symbolSize": 3364, "clipHeight": 32, "rowPadding": 0, "labelOffset": 3.5, "titlePadding": 2, "titleAnchor": "start"}}
          }
        },
        {
          "data": {"name": "exafs"},
          "transform": [{"flatten": ["s"]}, {"filter": "datum.s == '49'"}],
          "mark": {"type": "line", "interpolate": "monotone", "strokeJoin": "round"},
          "encoding": {
            "x": {"field": "k", "type": "quantitative", "scale": {"domain": [0, 20], "nice": false, "zero": false}, "axis": null},
            "y": {"field": "v", "type": "quantitative", "scale": {"domain": [-4, 6], "nice": false, "zero": false}, "axis": null},
            "color": {"field": "s", "type": "nominal", "scale": {"domain": ["3846","495","99","49"], "range": ["#000000","#00ff00","#0000ff","#ff0000"]},
              "legend": {"orient": "none", "legendX": 494.5, "legendY": 405, "direction": "vertical", "title": "Atomic configurations:", "titleFontSize": 25, "labelFontSize": 25, "symbolType": "stroke", "symbolSize": 3364, "clipHeight": 32, "rowPadding": 0, "labelOffset": 3.5, "titlePadding": 2, "titleAnchor": "start"}},
            "strokeWidth": {"field": "s", "type": "nominal", "scale": {"type": "ordinal", "domain": ["3846","495","99","49"], "range": [6.3, 3.5, 3.5, 3.5]},
              "legend": {"orient": "none", "legendX": 494.5, "legendY": 405, "direction": "vertical", "title": "Atomic configurations:", "titleFontSize": 25, "labelFontSize": 25, "symbolType": "stroke", "symbolSize": 3364, "clipHeight": 32, "rowPadding": 0, "labelOffset": 3.5, "titlePadding": 2, "titleAnchor": "start"}}
          }
        },
        {
          "data": {"values": [{}]},
          "mark": {"type": "point", "opacity": 0},
          "encoding": {
            "x": {"datum": 10, "type": "quantitative", "scale": {"domain": [0, 20], "nice": false, "zero": false},
              "axis": {"orient": "bottom", "values": [0,0.5,1,1.5,2,2.5,3,3.5,4,4.5,5,5.5,6,6.5,7,7.5,8,8.5,9,9.5,10,10.5,11,11.5,12,12.5,13,13.5,14,14.5,15,15.5,16,16.5,17,17.5,18,18.5,19,19.5,20], "labels": false, "tickSize": -5, "tickWidth": 2, "domain": false, "title": null}},
            "y": {"datum": 0, "type": "quantitative", "scale": {"domain": [-4, 6], "nice": false, "zero": false},
              "axis": {"orient": "left", "values": [-4,-3.75,-3.5,-3.25,-3,-2.75,-2.5,-2.25,-2,-1.75,-1.5,-1.25,-1,-0.75,-0.5,-0.25,0,0.25,0.5,0.75,1,1.25,1.5,1.75,2,2.25,2.5,2.75,3,3.25,3.5,3.75,4,4.25,4.5,4.75,5,5.25,5.5,5.75,6], "labels": false, "tickSize": -5, "tickWidth": 2, "domain": false, "title": null}}
          }
        },
        {
          "data": {"values": [{}]},
          "mark": {"type": "point", "opacity": 0},
          "encoding": {
            "x": {"datum": 10, "type": "quantitative", "scale": {"domain": [0, 20], "nice": false, "zero": false},
              "axis": {"orient": "top", "values": [0,2,4,6,8,10,12,14,16,18,20], "labels": false, "tickSize": -10, "tickWidth": 2, "domain": false, "title": null}},
            "y": {"datum": 0, "type": "quantitative", "scale": {"domain": [-4, 6], "nice": false, "zero": false},
              "axis": {"orient": "right", "values": [-4,-3,-2,-1,0,1,2,3,4,5,6], "labels": false, "tickSize": -10, "tickWidth": 2, "domain": false, "title": null}}
          }
        },
        {
          "data": {"values": [{}]},
          "mark": {"type": "point", "opacity": 0},
          "encoding": {
            "x": {"datum": 10, "type": "quantitative", "scale": {"domain": [0, 20], "nice": false, "zero": false},
              "axis": {"orient": "top", "values": [0,0.5,1,1.5,2,2.5,3,3.5,4,4.5,5,5.5,6,6.5,7,7.5,8,8.5,9,9.5,10,10.5,11,11.5,12,12.5,13,13.5,14,14.5,15,15.5,16,16.5,17,17.5,18,18.5,19,19.5,20], "labels": false, "tickSize": -5, "tickWidth": 2, "domain": false, "title": null}},
            "y": {"datum": 0, "type": "quantitative", "scale": {"domain": [-4, 6], "nice": false, "zero": false},
              "axis": {"orient": "right", "values": [-4,-3.75,-3.5,-3.25,-3,-2.75,-2.5,-2.25,-2,-1.75,-1.5,-1.25,-1,-0.75,-0.5,-0.25,0,0.25,0.5,0.75,1,1.25,1.5,1.75,2,2.25,2.5,2.75,3,3.25,3.5,3.75,4,4.25,4.5,4.75,5,5.25,5.5,5.75,6], "labels": false, "tickSize": -5, "tickWidth": 2, "domain": false, "title": null}}
          }
        },
        {
          "data": {"values": [{}]},
          "mark": {"type": "text", "text": ["Fe K-edge in bcc Fe", "at T=300 K", "MD-EXAFS"], "font": "Liberation Sans", "fontSize": 25, "fontWeight": "bold", "align": "center", "baseline": "alphabetic", "lineHeight": 31.7, "color": "black"},
          "encoding": {
            "x": {"datum": 3.4, "type": "quantitative", "scale": {"domain": [0, 20], "nice": false, "zero": false}, "axis": null},
            "y": {"datum": 5.206, "type": "quantitative", "scale": {"domain": [-4, 6], "nice": false, "zero": false}, "axis": null}
          }
        }
      ],
      "resolve": {"axis": {"x": "independent", "y": "independent"}}
    },
    {
      "layer": [
        {
          "data": {"name": "exafs"},
          "transform": [{"flatten": ["s"]}, {"filter": "datum.k >= 10 && datum.s == '3846'"}],
          "mark": {"type": "line", "interpolate": "monotone", "strokeJoin": "round"},
          "encoding": {
            "x": {"field": "k", "type": "quantitative", "scale": {"domain": [10, 20], "range": [457.3, 779], "clamp": true, "nice": false, "zero": false},
              "axis": {"orient": "bottom", "offset": -325.7, "zindex": 1, "values": [10,12,14,16,18,20], "format": "d", "labelFontSize": 12, "tickSize": -4, "tickWidth": 1, "labelPadding": 9, "domain": true, "domainWidth": 1.5, "title": "Wavenumber k (Å⁻¹)", "titleFontSize": 16, "titleY": 44.4, "titleBaseline": "alphabetic"}},
            "y": {"field": "v", "type": "quantitative", "scale": {"domain": [-1, 1], "range": [253.3, 20.3], "clamp": true, "nice": false, "zero": false},
              "axis": {"orient": "left", "offset": -457.3, "zindex": 1, "values": [-1,-0.5,0,0.5,1], "format": ".1f", "labelExpr": "replace(datum.label, '−', '-')", "labelFontSize": 12, "tickSize": -4, "tickWidth": 1, "labelPadding": 10.6, "domain": true, "domainWidth": 1.5, "title": "EXAFS χ(k)k² (Å⁻²)", "titleFontSize": 16, "titleX": -45, "titleY": 143.5, "titleAngle": -90, "titleBaseline": "alphabetic", "titleAlign": "center"}},
            "color": {"field": "s", "type": "nominal", "scale": {"domain": ["3846","495","99","49"], "range": ["#000000","#00ff00","#0000ff","#ff0000"]},
              "legend": {"orient": "none", "legendX": 655.9, "legendY": 183.2, "direction": "vertical", "title": "Atomic configurations:", "titleFontSize": 10.5, "labelFontSize": 10.5, "symbolType": "stroke", "symbolSize": 543, "clipHeight": 13.1, "rowPadding": 0, "labelOffset": 2.1, "titlePadding": 0.5, "titleAnchor": "start"}},
            "strokeWidth": {"field": "s", "type": "nominal", "scale": {"type": "ordinal", "domain": ["3846","495","99","49"], "range": [2.4, 1.2, 1.2, 1.2]},
              "legend": {"orient": "none", "legendX": 655.9, "legendY": 183.2, "direction": "vertical", "title": "Atomic configurations:", "titleFontSize": 10.5, "labelFontSize": 10.5, "symbolType": "stroke", "symbolSize": 543, "clipHeight": 13.1, "rowPadding": 0, "labelOffset": 2.1, "titlePadding": 0.5, "titleAnchor": "start"}}
          }
        },
        {
          "data": {"name": "exafs"},
          "transform": [{"flatten": ["s"]}, {"filter": "datum.k >= 10 && datum.s == '495'"}],
          "mark": {"type": "line", "interpolate": "monotone", "strokeJoin": "round"},
          "encoding": {
            "x": {"field": "k", "type": "quantitative", "scale": {"domain": [10, 20], "range": [457.3, 779], "clamp": true, "nice": false, "zero": false}, "axis": null},
            "y": {"field": "v", "type": "quantitative", "scale": {"domain": [-1, 1], "range": [253.3, 20.3], "clamp": true, "nice": false, "zero": false}, "axis": null},
            "color": {"field": "s", "type": "nominal", "scale": {"domain": ["3846","495","99","49"], "range": ["#000000","#00ff00","#0000ff","#ff0000"]},
              "legend": {"orient": "none", "legendX": 655.9, "legendY": 183.2, "direction": "vertical", "title": "Atomic configurations:", "titleFontSize": 10.5, "labelFontSize": 10.5, "symbolType": "stroke", "symbolSize": 543, "clipHeight": 13.1, "rowPadding": 0, "labelOffset": 2.1, "titlePadding": 0.5, "titleAnchor": "start"}},
            "strokeWidth": {"field": "s", "type": "nominal", "scale": {"type": "ordinal", "domain": ["3846","495","99","49"], "range": [2.4, 1.2, 1.2, 1.2]},
              "legend": {"orient": "none", "legendX": 655.9, "legendY": 183.2, "direction": "vertical", "title": "Atomic configurations:", "titleFontSize": 10.5, "labelFontSize": 10.5, "symbolType": "stroke", "symbolSize": 543, "clipHeight": 13.1, "rowPadding": 0, "labelOffset": 2.1, "titlePadding": 0.5, "titleAnchor": "start"}}
          }
        },
        {
          "data": {"name": "exafs"},
          "transform": [{"flatten": ["s"]}, {"filter": "datum.k >= 10 && datum.s == '99'"}],
          "mark": {"type": "line", "interpolate": "monotone", "strokeJoin": "round"},
          "encoding": {
            "x": {"field": "k", "type": "quantitative", "scale": {"domain": [10, 20], "range": [457.3, 779], "clamp": true, "nice": false, "zero": false}, "axis": null},
            "y": {"field": "v", "type": "quantitative", "scale": {"domain": [-1, 1], "range": [253.3, 20.3], "clamp": true, "nice": false, "zero": false}, "axis": null},
            "color": {"field": "s", "type": "nominal", "scale": {"domain": ["3846","495","99","49"], "range": ["#000000","#00ff00","#0000ff","#ff0000"]},
              "legend": {"orient": "none", "legendX": 655.9, "legendY": 183.2, "direction": "vertical", "title": "Atomic configurations:", "titleFontSize": 10.5, "labelFontSize": 10.5, "symbolType": "stroke", "symbolSize": 543, "clipHeight": 13.1, "rowPadding": 0, "labelOffset": 2.1, "titlePadding": 0.5, "titleAnchor": "start"}},
            "strokeWidth": {"field": "s", "type": "nominal", "scale": {"type": "ordinal", "domain": ["3846","495","99","49"], "range": [2.4, 1.2, 1.2, 1.2]},
              "legend": {"orient": "none", "legendX": 655.9, "legendY": 183.2, "direction": "vertical", "title": "Atomic configurations:", "titleFontSize": 10.5, "labelFontSize": 10.5, "symbolType": "stroke", "symbolSize": 543, "clipHeight": 13.1, "rowPadding": 0, "labelOffset": 2.1, "titlePadding": 0.5, "titleAnchor": "start"}}
          }
        },
        {
          "data": {"name": "exafs"},
          "transform": [{"flatten": ["s"]}, {"filter": "datum.k >= 10 && datum.s == '49'"}],
          "mark": {"type": "line", "interpolate": "monotone", "strokeJoin": "round"},
          "encoding": {
            "x": {"field": "k", "type": "quantitative", "scale": {"domain": [10, 20], "range": [457.3, 779], "clamp": true, "nice": false, "zero": false}, "axis": null},
            "y": {"field": "v", "type": "quantitative", "scale": {"domain": [-1, 1], "range": [253.3, 20.3], "clamp": true, "nice": false, "zero": false}, "axis": null},
            "color": {"field": "s", "type": "nominal", "scale": {"domain": ["3846","495","99","49"], "range": ["#000000","#00ff00","#0000ff","#ff0000"]},
              "legend": {"orient": "none", "legendX": 655.9, "legendY": 183.2, "direction": "vertical", "title": "Atomic configurations:", "titleFontSize": 10.5, "labelFontSize": 10.5, "symbolType": "stroke", "symbolSize": 543, "clipHeight": 13.1, "rowPadding": 0, "labelOffset": 2.1, "titlePadding": 0.5, "titleAnchor": "start"}},
            "strokeWidth": {"field": "s", "type": "nominal", "scale": {"type": "ordinal", "domain": ["3846","495","99","49"], "range": [2.4, 1.2, 1.2, 1.2]},
              "legend": {"orient": "none", "legendX": 655.9, "legendY": 183.2, "direction": "vertical", "title": "Atomic configurations:", "titleFontSize": 10.5, "labelFontSize": 10.5, "symbolType": "stroke", "symbolSize": 543, "clipHeight": 13.1, "rowPadding": 0, "labelOffset": 2.1, "titlePadding": 0.5, "titleAnchor": "start"}}
          }
        },
        {
          "data": {"values": [{}]},
          "mark": {"type": "point", "opacity": 0},
          "encoding": {
            "x": {"datum": 15, "type": "quantitative", "scale": {"domain": [10, 20], "range": [457.3, 779], "clamp": true, "nice": false, "zero": false},
              "axis": {"orient": "bottom", "offset": -325.7, "zindex": 1, "values": [10,10.5,11,11.5,12,12.5,13,13.5,14,14.5,15,15.5,16,16.5,17,17.5,18,18.5,19,19.5,20], "labels": false, "tickSize": -2, "tickWidth": 1, "domain": false, "title": null}},
            "y": {"datum": 0, "type": "quantitative", "scale": {"domain": [-1, 1], "range": [253.3, 20.3], "clamp": true, "nice": false, "zero": false},
              "axis": {"orient": "left", "offset": -457.3, "zindex": 1, "values": [-1,-0.9,-0.8,-0.7,-0.6,-0.5,-0.4,-0.3,-0.2,-0.1,0,0.1,0.2,0.3,0.4,0.5,0.6,0.7,0.8,0.9,1], "labels": false, "tickSize": -2, "tickWidth": 1, "domain": false, "title": null}}
          }
        },
        {
          "data": {"values": [{}]},
          "mark": {"type": "point", "opacity": 0},
          "encoding": {
            "x": {"datum": 15, "type": "quantitative", "scale": {"domain": [10, 20], "range": [457.3, 779], "clamp": true, "nice": false, "zero": false},
              "axis": {"orient": "top", "offset": -20.3, "zindex": 1, "values": [10,12,14,16,18,20], "labels": false, "tickSize": -4, "tickWidth": 1, "domain": true, "domainWidth": 1.5, "title": null}},
            "y": {"datum": 0, "type": "quantitative", "scale": {"domain": [-1, 1], "range": [253.3, 20.3], "clamp": true, "nice": false, "zero": false},
              "axis": {"orient": "right", "offset": -20, "zindex": 1, "values": [-1,-0.5,0,0.5,1], "labels": false, "tickSize": -4, "tickWidth": 1, "domain": true, "domainWidth": 1.5, "title": null}}
          }
        },
        {
          "data": {"values": [{}]},
          "mark": {"type": "point", "opacity": 0},
          "encoding": {
            "x": {"datum": 15, "type": "quantitative", "scale": {"domain": [10, 20], "range": [457.3, 779], "clamp": true, "nice": false, "zero": false},
              "axis": {"orient": "top", "offset": -20.3, "zindex": 1, "values": [10,10.5,11,11.5,12,12.5,13,13.5,14,14.5,15,15.5,16,16.5,17,17.5,18,18.5,19,19.5,20], "labels": false, "tickSize": -2, "tickWidth": 1, "domain": false, "title": null}},
            "y": {"datum": 0, "type": "quantitative", "scale": {"domain": [-1, 1], "range": [253.3, 20.3], "clamp": true, "nice": false, "zero": false},
              "axis": {"orient": "right", "offset": -20, "zindex": 1, "values": [-1,-0.9,-0.8,-0.7,-0.6,-0.5,-0.4,-0.3,-0.2,-0.1,0,0.1,0.2,0.3,0.4,0.5,0.6,0.7,0.8,0.9,1], "labels": false, "tickSize": -2, "tickWidth": 1, "domain": false, "title": null}}
          }
        },
        {
          "data": {"values": [{}]},
          "mark": {"type": "text", "text": ["Fe K-edge in bcc Fe", "at T=300 K", "MD-EXAFS"], "font": "Liberation Sans", "fontSize": 10.5, "fontWeight": "bold", "align": "center", "baseline": "alphabetic", "lineHeight": 12.85, "color": "black"},
          "encoding": {
            "x": {"datum": 17.97, "type": "quantitative", "scale": {"domain": [10, 20], "range": [457.3, 779], "clamp": true, "nice": false, "zero": false}, "axis": null},
            "y": {"datum": 0.791, "type": "quantitative", "scale": {"domain": [-1, 1], "range": [253.3, 20.3], "clamp": true, "nice": false, "zero": false}, "axis": null}
          }
        }
      ],
      "resolve": {"axis": {"x": "independent", "y": "independent"}}
    }
  ],
  "resolve": {"scale": {"x": "independent", "y": "independent", "color": "independent", "strokeWidth": "independent"}}
}
